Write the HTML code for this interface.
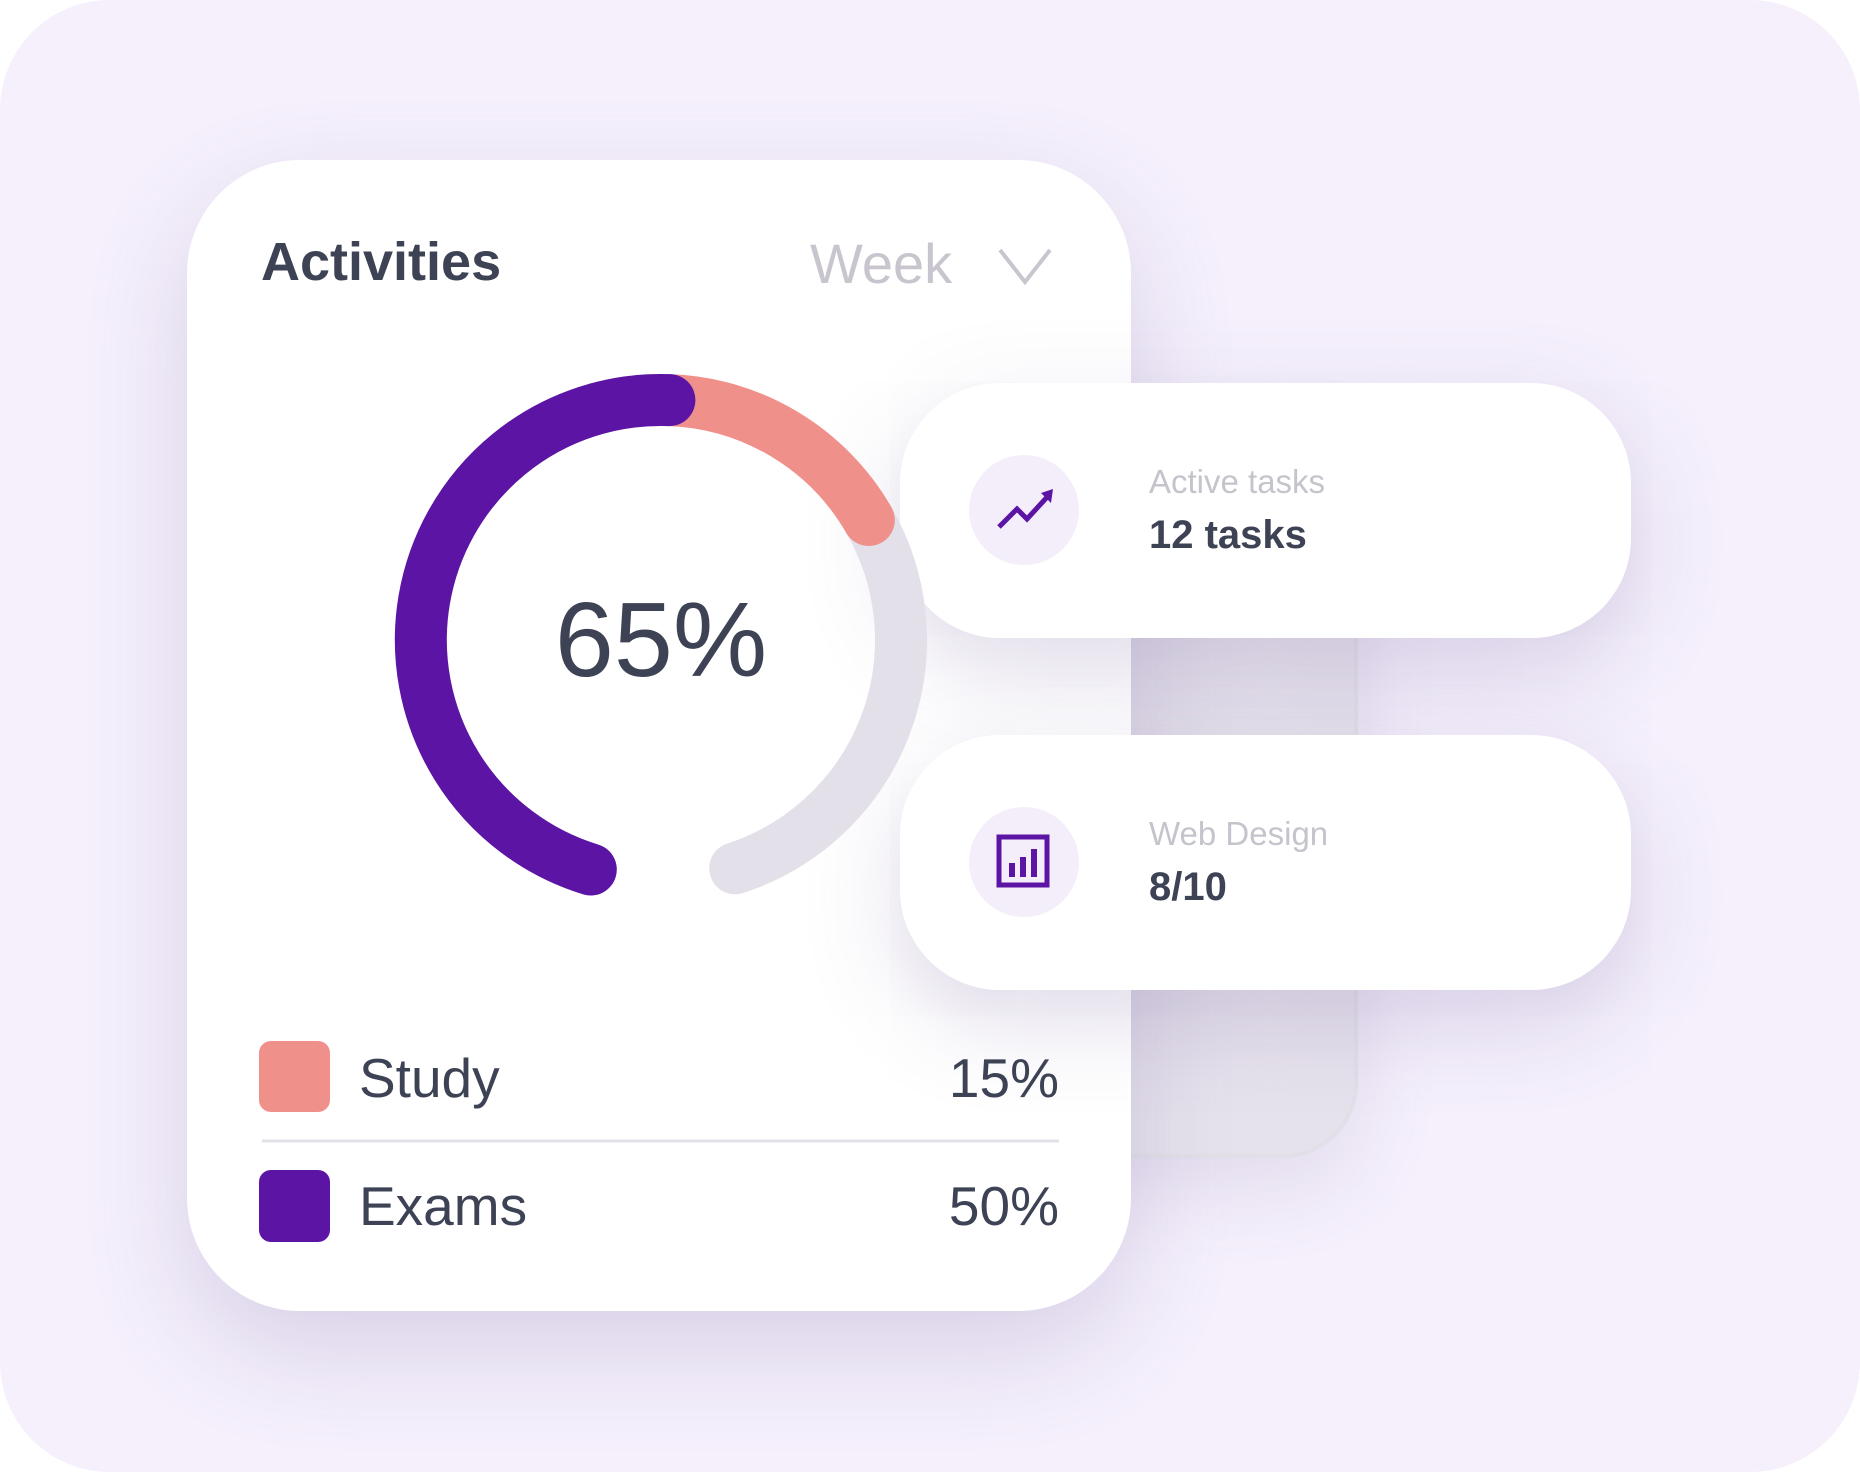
<!DOCTYPE html>
<html><head><style>
html,body{margin:0;padding:0;width:1860px;height:1472px;overflow:hidden;background:#fff;font-family:"Liberation Sans",sans-serif;}
.bg{position:absolute;left:0;top:0;width:1860px;height:1472px;border-radius:110px;background:#f5f0fc;overflow:hidden}
.back{position:absolute;left:950px;top:420px;width:400px;height:730px;border:4px solid #e2dfe8;border-radius:0 0 75px 0;background:#e6e2ec;box-shadow:0 30px 80px rgba(120,100,150,0.15)}
.main{position:absolute;left:187px;top:160px;width:944px;height:1151px;border-radius:113px;background:#fff;box-shadow:0 40px 100px rgba(120,100,160,0.22)}
.card{position:absolute;left:900px;width:731px;height:255px;border-radius:100px;background:#fff;box-shadow:0 30px 90px rgba(120,100,160,0.25)}
.ic{position:absolute;left:69px;top:72px;width:110px;height:110px;border-radius:50%;background:#f4eefb}
.t{position:absolute;white-space:nowrap}
</style></head><body>
<div class="bg">
<div class="back"></div>
<div class="main"></div>
<div class="t" style="left:261px;top:231px;font-size:54px;font-weight:bold;color:#3d4355">Activities</div>
<div class="t" style="left:810px;top:231px;font-size:56px;color:#c8c5cf">Week</div>
<svg style="position:absolute;left:0;top:0" width="1860" height="1472">
<polyline points="1000,250 1025,282 1050,250" fill="none" stroke="#c8c5cf" stroke-width="4"/>
</svg>
<div class="card" style="top:383px"><div class="ic"></div>
<svg style="position:absolute;left:69px;top:72px" width="110" height="110"><polyline points="30,72 48,54 58,64 80,40" fill="none" stroke="#5b14a3" stroke-width="5"/><polygon points="84,34 72,38 82,48" fill="#5b14a3"/></svg>
<div class="t" style="left:249px;top:80px;font-size:33px;color:#c6c3cc">Active tasks</div>
<div class="t" style="left:249px;top:130px;font-size:40px;font-weight:bold;color:#3d4355">12 tasks</div>
</div>
<div class="card" style="top:735px"><div class="ic"></div>
<svg style="position:absolute;left:69px;top:72px" width="110" height="110"><rect x="30" y="30" width="48" height="48" fill="none" stroke="#5b14a3" stroke-width="5"/><rect x="40" y="56" width="6" height="14" fill="#5b14a3"/><rect x="51" y="50" width="6" height="20" fill="#5b14a3"/><rect x="62" y="42" width="6" height="28" fill="#5b14a3"/></svg>
<div class="t" style="left:249px;top:80px;font-size:33px;color:#c6c3cc">Web Design</div>
<div class="t" style="left:249px;top:130px;font-size:40px;font-weight:bold;color:#3d4355">8/10</div>
</div>
<svg style="position:absolute;left:0;top:0" width="1860" height="1472">
<g fill="none" stroke-width="52" stroke-linecap="round" transform="translate(661,640)">
<path d="M 207.8 -120 A 240 240 0 0 1 74.2 228.3" stroke="#e3e0ea"/>
<path d="M 8.4 -239.9 A 240 240 0 0 1 207.8 -120" stroke="#f0908b"/>
<path d="M -70.2 229.5 A 240 240 0 0 1 8.4 -239.9" stroke="#5b14a3"/>
</g>
<text x="661" y="676" text-anchor="middle" font-family="Liberation Sans" font-size="106" fill="#3d4355">65%</text>
<rect x="259" y="1041" width="71" height="71" rx="12" fill="#f0908b"/>
<rect x="259" y="1170" width="71" height="72" rx="12" fill="#5b14a3"/>
<line x1="262" y1="1141" x2="1059" y2="1141" stroke="#e3e0e8" stroke-width="3"/>
<text x="359" y="1097" font-family="Liberation Sans" font-size="55" fill="#3d4355">Study</text>
<text x="359" y="1225" font-family="Liberation Sans" font-size="55" fill="#3d4355">Exams</text>
<text x="1059" y="1097" text-anchor="end" font-family="Liberation Sans" font-size="55" fill="#3d4355">15%</text>
<text x="1059" y="1225" text-anchor="end" font-family="Liberation Sans" font-size="55" fill="#3d4355">50%</text>
</svg>
</div>
</body></html>
